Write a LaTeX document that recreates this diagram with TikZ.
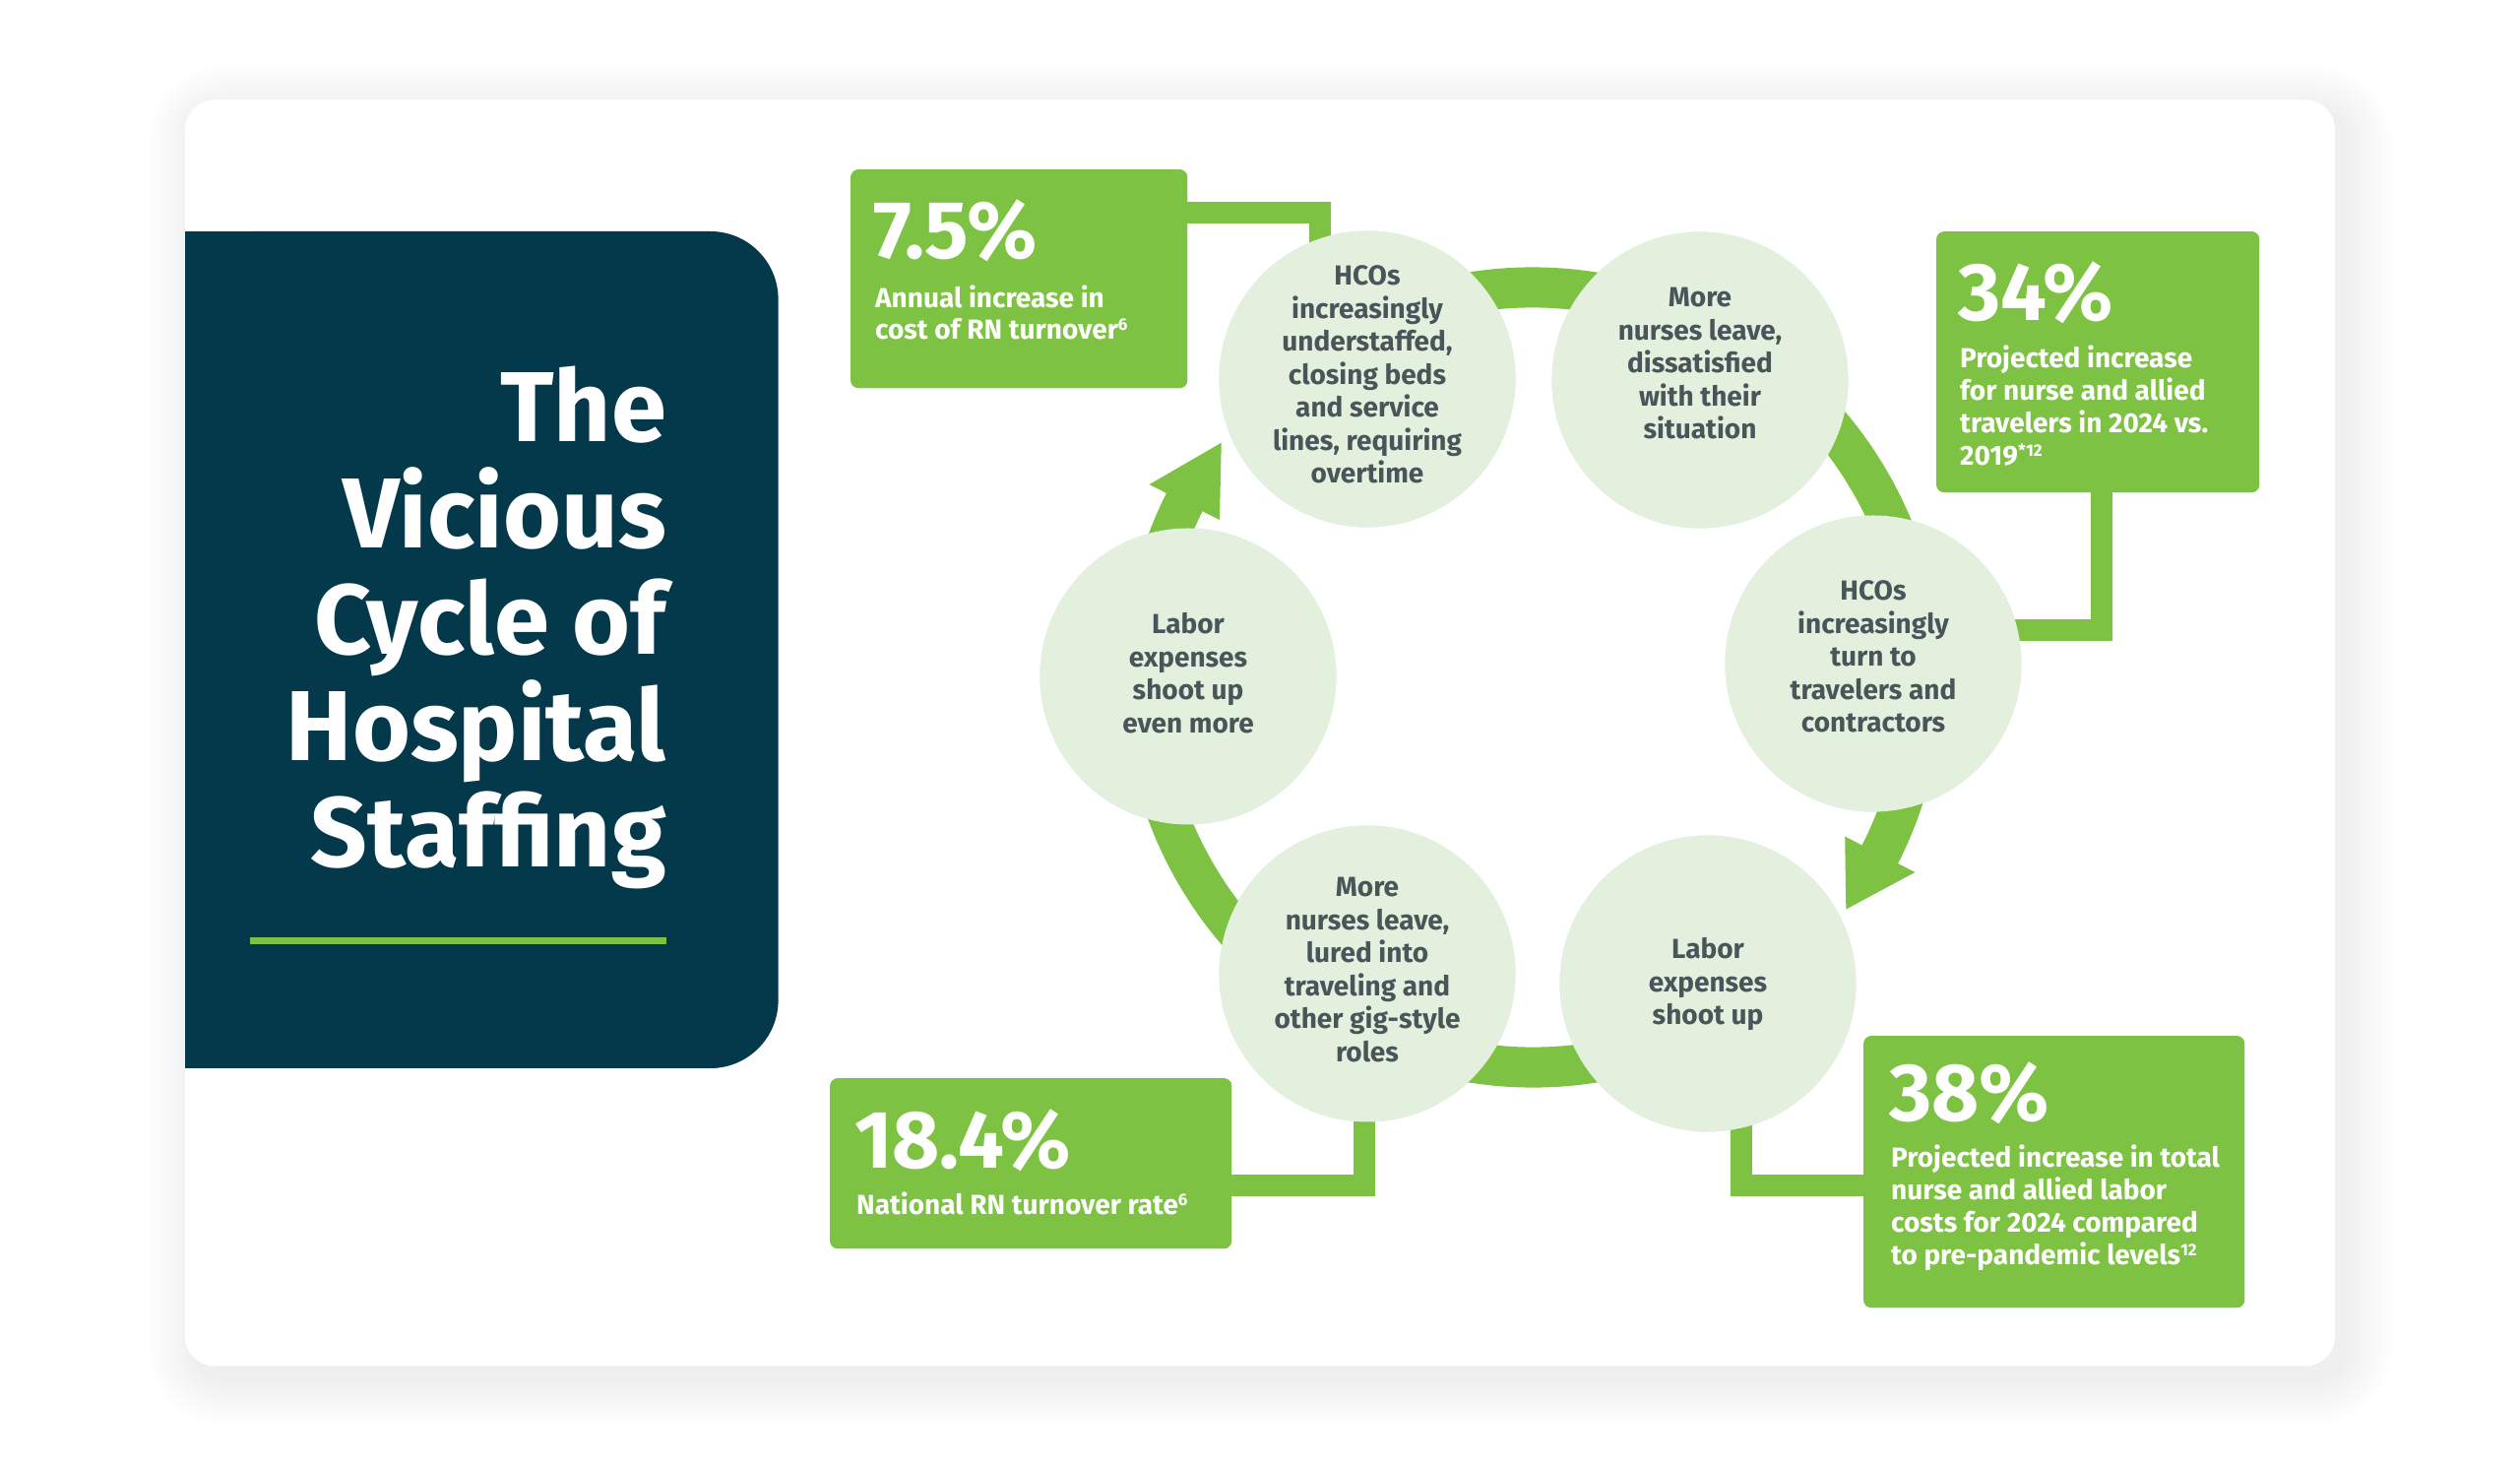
\documentclass[tikz,border=0pt]{standalone}
\usepackage{fontspec}
\setmainfont{Fira Sans}
\usetikzlibrary{calc}
\definecolor{grn}{RGB}{125,194,66}
\definecolor{lgrn}{RGB}{226,240,221}
\definecolor{navy}{RGB}{4,57,76}
\definecolor{txtgray}{RGB}{74,85,90}
\newcommand\stkc[2]{\vtop{\baselineskip=#1\relax\lineskiplimit=-\maxdimen\halign{\hfil##\hfil\cr#2\crcr}}}
\newcommand\stkl[2]{\vtop{\baselineskip=#1\relax\lineskiplimit=-\maxdimen\halign{##\hfil\cr#2\crcr}}}
\newcommand\stkr[2]{\vtop{\baselineskip=#1\relax\lineskiplimit=-\maxdimen\halign{\hfil##\cr#2\crcr}}}
\newcommand\sups[1]{\raisebox{9pt}{\fontsize{17}{17}\selectfont#1}}
\tikzset{
  bub/.style={circle, fill=lgrn, minimum size=301pt, inner sep=0pt},
  ctext/.style={inner sep=0pt, text=txtgray, font=\fontsize{28}{33.5}\selectfont\bfseries},
  gbox/.style={rectangle, fill=grn, rounded corners=8pt, inner sep=0pt, anchor=north west},
  pct/.style={inner sep=0pt, text=white, anchor=base west, font=\fontsize{83}{83}\selectfont\bfseries},
  btext/.style={inner sep=0pt, text=white, anchor=base west, font=\fontsize{28}{33}\selectfont\bfseries},
  conn/.style={draw=grn, line width=22pt},
  ring/.style={draw=grn, line width=41pt},
  titletext/.style={inner sep=0pt, text=white, anchor=base east, font=\fontsize{101}{108}\selectfont\bfseries}
}
\begin{document}
\begin{tikzpicture}[x=1pt, y=1pt]
\useasboundingbox (0,0) rectangle (2560,1489);
\fill[white] (0,0) rectangle (2560,1489);
% card shadow
\foreach \i in {1,...,16}{
  \pgfmathsetmacro\s{\i*3}
  \pgfmathsetmacro\rr{30+\i*3}
  \fill[black, opacity=0.0052, rounded corners=\rr pt] (188-\s+10, 101.5-\s-12) rectangle (2372+\s+10, 1387.5+\s-12);
}
% card
\fill[white, rounded corners=30pt] (188,101.5) rectangle (2372,1387.5);
% title panel
\fill[navy, rounded corners=69pt] (188,404) rectangle (790.6,1254);
\fill[navy] (188,404) rectangle (500,1254);
\node[titletext] (title) at (677,1040) {\stkr{108pt}{The\cr Vicious\cr Cycle of\cr Hospital\cr Staffing}};
\fill[grn] (253.6,529.5) rectangle (677,536.5);

% circles (positions)
\node[bub] (c1) at (1389,1104) {};
\node[bub] (c2) at (1727,1103) {};
\node[bub] (c3) at (1903,815) {};
\node[bub] (c4) at (1735,490) {};
\node[bub] (c5) at (1389,500) {};
\node[bub] (c6) at (1207,802) {};

% boxes (positions)
\node[gbox, minimum width=342pt, minimum height=222pt] (b75) at (864,1317) {};
\node[gbox, minimum width=328pt, minimum height=265pt] (b34) at (1967,1254) {};
\node[gbox, minimum width=387pt, minimum height=276pt] (b38) at (1893,437) {};
\node[gbox, minimum width=408pt, minimum height=173pt] (b184) at (843,394) {};

% connectors
\draw[conn] (b75.east |- 0,1273) -| ($(c1.center)+(-48.5,0)$);
\draw[conn] (b34.south -| 2134.5,0) |- ($(c3.center)+(0,34)$);
\draw[conn] ($(c4.center)+(34,0)$) |- (b38.west |- 0,285);
\draw[conn] ($(c5.center)+(-3,0)$) |- (b184.east |- 0,285);

% ring
\coordinate (O) at (1557,801);
\draw[ring] (O) ++(120:396) arc[start angle=120, end angle=-27.8, radius=396];
\draw[ring] (O) ++(-65:396) arc[start angle=-65, end angle=-207.5, radius=396];
\fill[grn] ($(O)+(143:396)$) -- ($(O)+(153.3:436)$) -- ($(O)+(153.3:356)$) -- cycle;
\fill[grn] ($(O)+(-36.5:396)$) -- ($(O)+(-27:436)$) -- ($(O)+(-27:356)$) -- cycle;

% circles on top
\node[bub] at (c1.center) {};
\node[bub] at (c2.center) {};
\node[bub] at (c3.center) {};
\node[bub] at (c4.center) {};
\node[bub] at (c5.center) {};
\node[bub] at (c6.center) {};
\node[ctext, anchor=base] (t1) at (1389,1199) {\stkc{33.5pt}{HCOs\cr increasingly\cr understaffed,\cr closing beds\cr and service\cr lines, requiring\cr overtime}};
\node[ctext, anchor=base] (t2) at (1727,1177.3) {\stkc{33.5pt}{More\cr nurses leave,\cr dissatisfied\cr with their\cr situation}};
\node[ctext, anchor=base] (t3) at (1903,879.4) {\stkc{33.5pt}{HCOs\cr increasingly\cr turn to\cr travelers and\cr contractors}};
\node[ctext, anchor=base] (t4) at (1735,515) {\stkc{33.5pt}{Labor\cr expenses\cr shoot up}};
\node[ctext, anchor=base] (t5) at (1389,578) {\stkc{33.5pt}{More\cr nurses leave,\cr lured into\cr traveling and\cr other gig-style\cr roles}};
\node[ctext, anchor=base] (t6) at (1207,845) {\stkc{33.5pt}{Labor\cr expenses\cr shoot up\cr even more}};

% boxes on top
\node[gbox, minimum width=342pt, minimum height=222pt] at (864,1317) {};
\node[gbox, minimum width=328pt, minimum height=265pt] at (1967,1254) {};
\node[gbox, minimum width=387pt, minimum height=276pt] at (1893,437) {};
\node[gbox, minimum width=408pt, minimum height=173pt] at (843,394) {};
\node[pct] (p75) at (887,1226) {7.5\%};
\node[btext] (d75) at (889,1176) {\stkl{32pt}{Annual increase in\cr cost of RN turnover\sups{6}}};
\node[pct] (p34) at (1989,1163) {34\%};
\node[btext] (d34) at (1991,1115) {\stkl{33pt}{Projected increase\cr for nurse and allied\cr travelers in 2024 vs.\cr 2019\sups{*12}}};
\node[pct] (p38) at (1919,350.5) {38\%};
\node[btext] (d38) at (1921,303) {\stkl{33pt}{Projected increase in total\cr nurse and allied labor\cr costs for 2024 compared\cr to pre-pandemic levels\sups{12}}};
\node[pct] (p184) at (868,302) {18.4\%};
\node[btext] (d184) at (870,255) {National RN turnover rate\sups{6}};
\end{tikzpicture}
\end{document}
